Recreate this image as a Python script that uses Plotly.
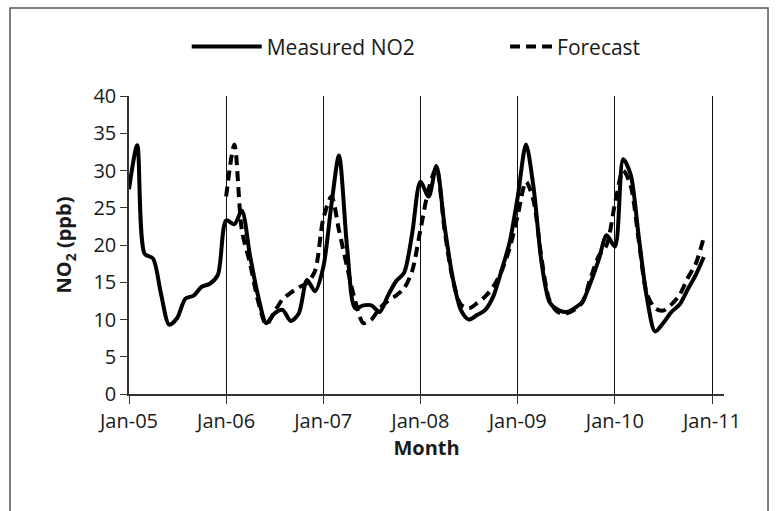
import pandas as pd
import plotly.graph_objects as go

months = pd.date_range("2005-01-01", periods=72, freq="MS")

measured_no2 = [
    27.5, 33.4, 18.8, 18.2, 13.5, 9.3, 10.2, 12.8, 13.2, 14.4, 14.8, 16.0,   # 2005
    23.3, 22.8, 24.6, 18.5, 13.2, 9.5, 10.8, 11.3, 9.8, 10.8, 15.3, 13.8,    # 2006
    17.0, 25.5, 32.0, 19.5, 11.5, 11.9, 11.9, 11.0, 13.2, 15.1, 16.3, 21.5,  # 2007
    28.5, 26.5, 30.6, 22.5, 15.7, 11.3, 10.0, 10.6, 11.3, 13.1, 16.6, 20.3,  # 2008
    26.5, 33.5, 27.8, 17.5, 12.3, 11.3, 11.0, 11.5, 12.4, 14.9, 18.0, 21.3,  # 2009
    19.8, 31.5, 29.5, 21.0, 13.0, 8.4, 9.5, 11.0, 12.0, 14.0, 16.0, 18.4,    # 2010
]

forecast_months = months[12:]
forecast = [
    26.5, 33.5, 22.0, 17.5, 12.5, 9.3, 11.0, 12.7, 13.6, 14.3, 14.9, 16.5,   # 2006
    23.5, 26.5, 22.0, 17.0, 12.5, 9.5, 10.0, 11.5, 12.5, 13.2, 14.2, 16.5,   # 2007
    22.0, 27.5, 30.3, 22.0, 15.5, 12.0, 11.5, 12.2, 13.1, 14.4, 16.5, 19.5,  # 2008
    24.0, 28.5, 26.0, 18.0, 12.5, 11.0, 10.8, 11.3, 12.3, 15.5, 18.5, 20.0,  # 2009
    25.5, 30.0, 28.0, 20.5, 13.5, 11.5, 11.2, 12.0, 13.3, 15.5, 17.5, 21.0,  # 2010
]

FONT = "Open Sans"

fig = go.Figure()
fig.add_trace(go.Scatter(
    x=months, y=measured_no2, name="Measured NO2", mode="lines", legend="legend",
    line=dict(color="black", width=4, shape="spline", smoothing=0.8),
))
fig.add_trace(go.Scatter(
    x=forecast_months, y=forecast, name="Forecast", mode="lines", legend="legend2",
    line=dict(color="black", width=4, shape="spline", smoothing=0.8, dash="10px,6px"),
))

legend_common = dict(orientation="h", y=1.165, yanchor="middle", xanchor="left",
                     font=dict(size=21), bgcolor="rgba(0,0,0,0)")

fig.update_layout(
    width=780, height=511,
    margin=dict(l=129, r=56, t=96, b=117),
    paper_bgcolor="white", plot_bgcolor="white",
    font=dict(family=FONT, size=20, color="#1a1a1a"),
    showlegend=True,
    legend=dict(legend_common, x=0.097, itemwidth=70),
    legend2=dict(legend_common, x=0.632, itemwidth=42),
    xaxis=dict(
        type="date",
        range=["2005-01-01", "2011-02-15"],
        tick0="2005-01-01", dtick="M12", tickformat="%b-%y",
        showgrid=True, gridcolor="#111", gridwidth=1,
        showline=True, linecolor="#333", linewidth=1.5,
        ticks="outside", ticklen=8, tickcolor="#333",
        zeroline=False,
        title=dict(text="<b>Month</b>", font=dict(size=20), standoff=3),
    ),
    yaxis=dict(
        range=[0, 40], dtick=5,
        showgrid=False, zeroline=False,
        showline=True, linecolor="#333", linewidth=1.5,
        ticks="outside", ticklen=7, tickcolor="#333",
        title=dict(text="<b>NO<sub>2</sub> (ppb)</b>", font=dict(size=20), standoff=16),
    ),
    shapes=[dict(type="rect", xref="paper", yref="paper",
                 x0=-0.2, x1=1.074, y0=-0.45, y1=1.295,
                 line=dict(color="#555", width=1.5), fillcolor="rgba(0,0,0,0)", layer="below")],
)

fig.write_html("out.html")
